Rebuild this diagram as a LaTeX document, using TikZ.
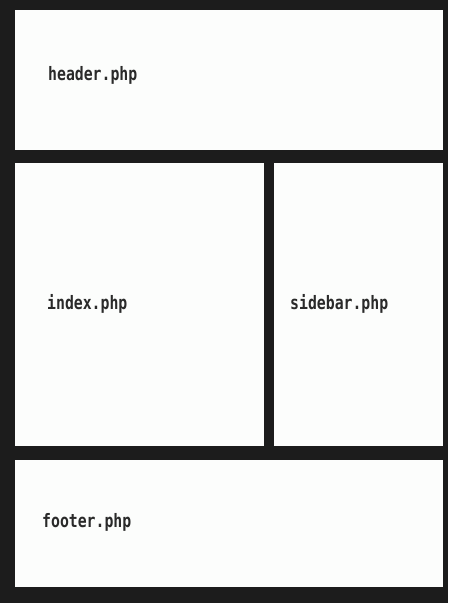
\documentclass[tikz,border=0pt]{standalone}
\usepackage{fontspec}
\newfontfamily\codefont[FakeStretch=0.8]{DejaVu Sans Mono Bold}
\definecolor{frame}{HTML}{1C1C1C}
\definecolor{panel}{HTML}{FCFDFC}
\definecolor{ink}{HTML}{2A2A2A}
\tikzset{
  panelbox/.style={fill=panel, draw=none},
  label/.style={anchor=base west, inner sep=0pt, text=ink, font=\codefont\fontsize{18.5}{20}\selectfont}
}
\begin{document}
\begin{tikzpicture}[x=1pt,y=-1pt]
  \fill[frame] (0,0) rectangle (448,603);
  \useasboundingbox (0,0) rectangle (448,603);
  \fill[panelbox] (15,10) rectangle (443,150);
  \fill[panelbox] (15,163) rectangle (264,446);
  \fill[panelbox] (274,163) rectangle (443,446);
  \fill[panelbox] (15,460) rectangle (443,587);
  \node[label] (header) at (48,80) {header.php};
  \node[label] (index) at (47,309) {index.php};
  \node[label] (sidebar) at (290,309) {sidebar.php};
  \node[label] (footer) at (42,527) {footer.php};
\end{tikzpicture}
\end{document}
